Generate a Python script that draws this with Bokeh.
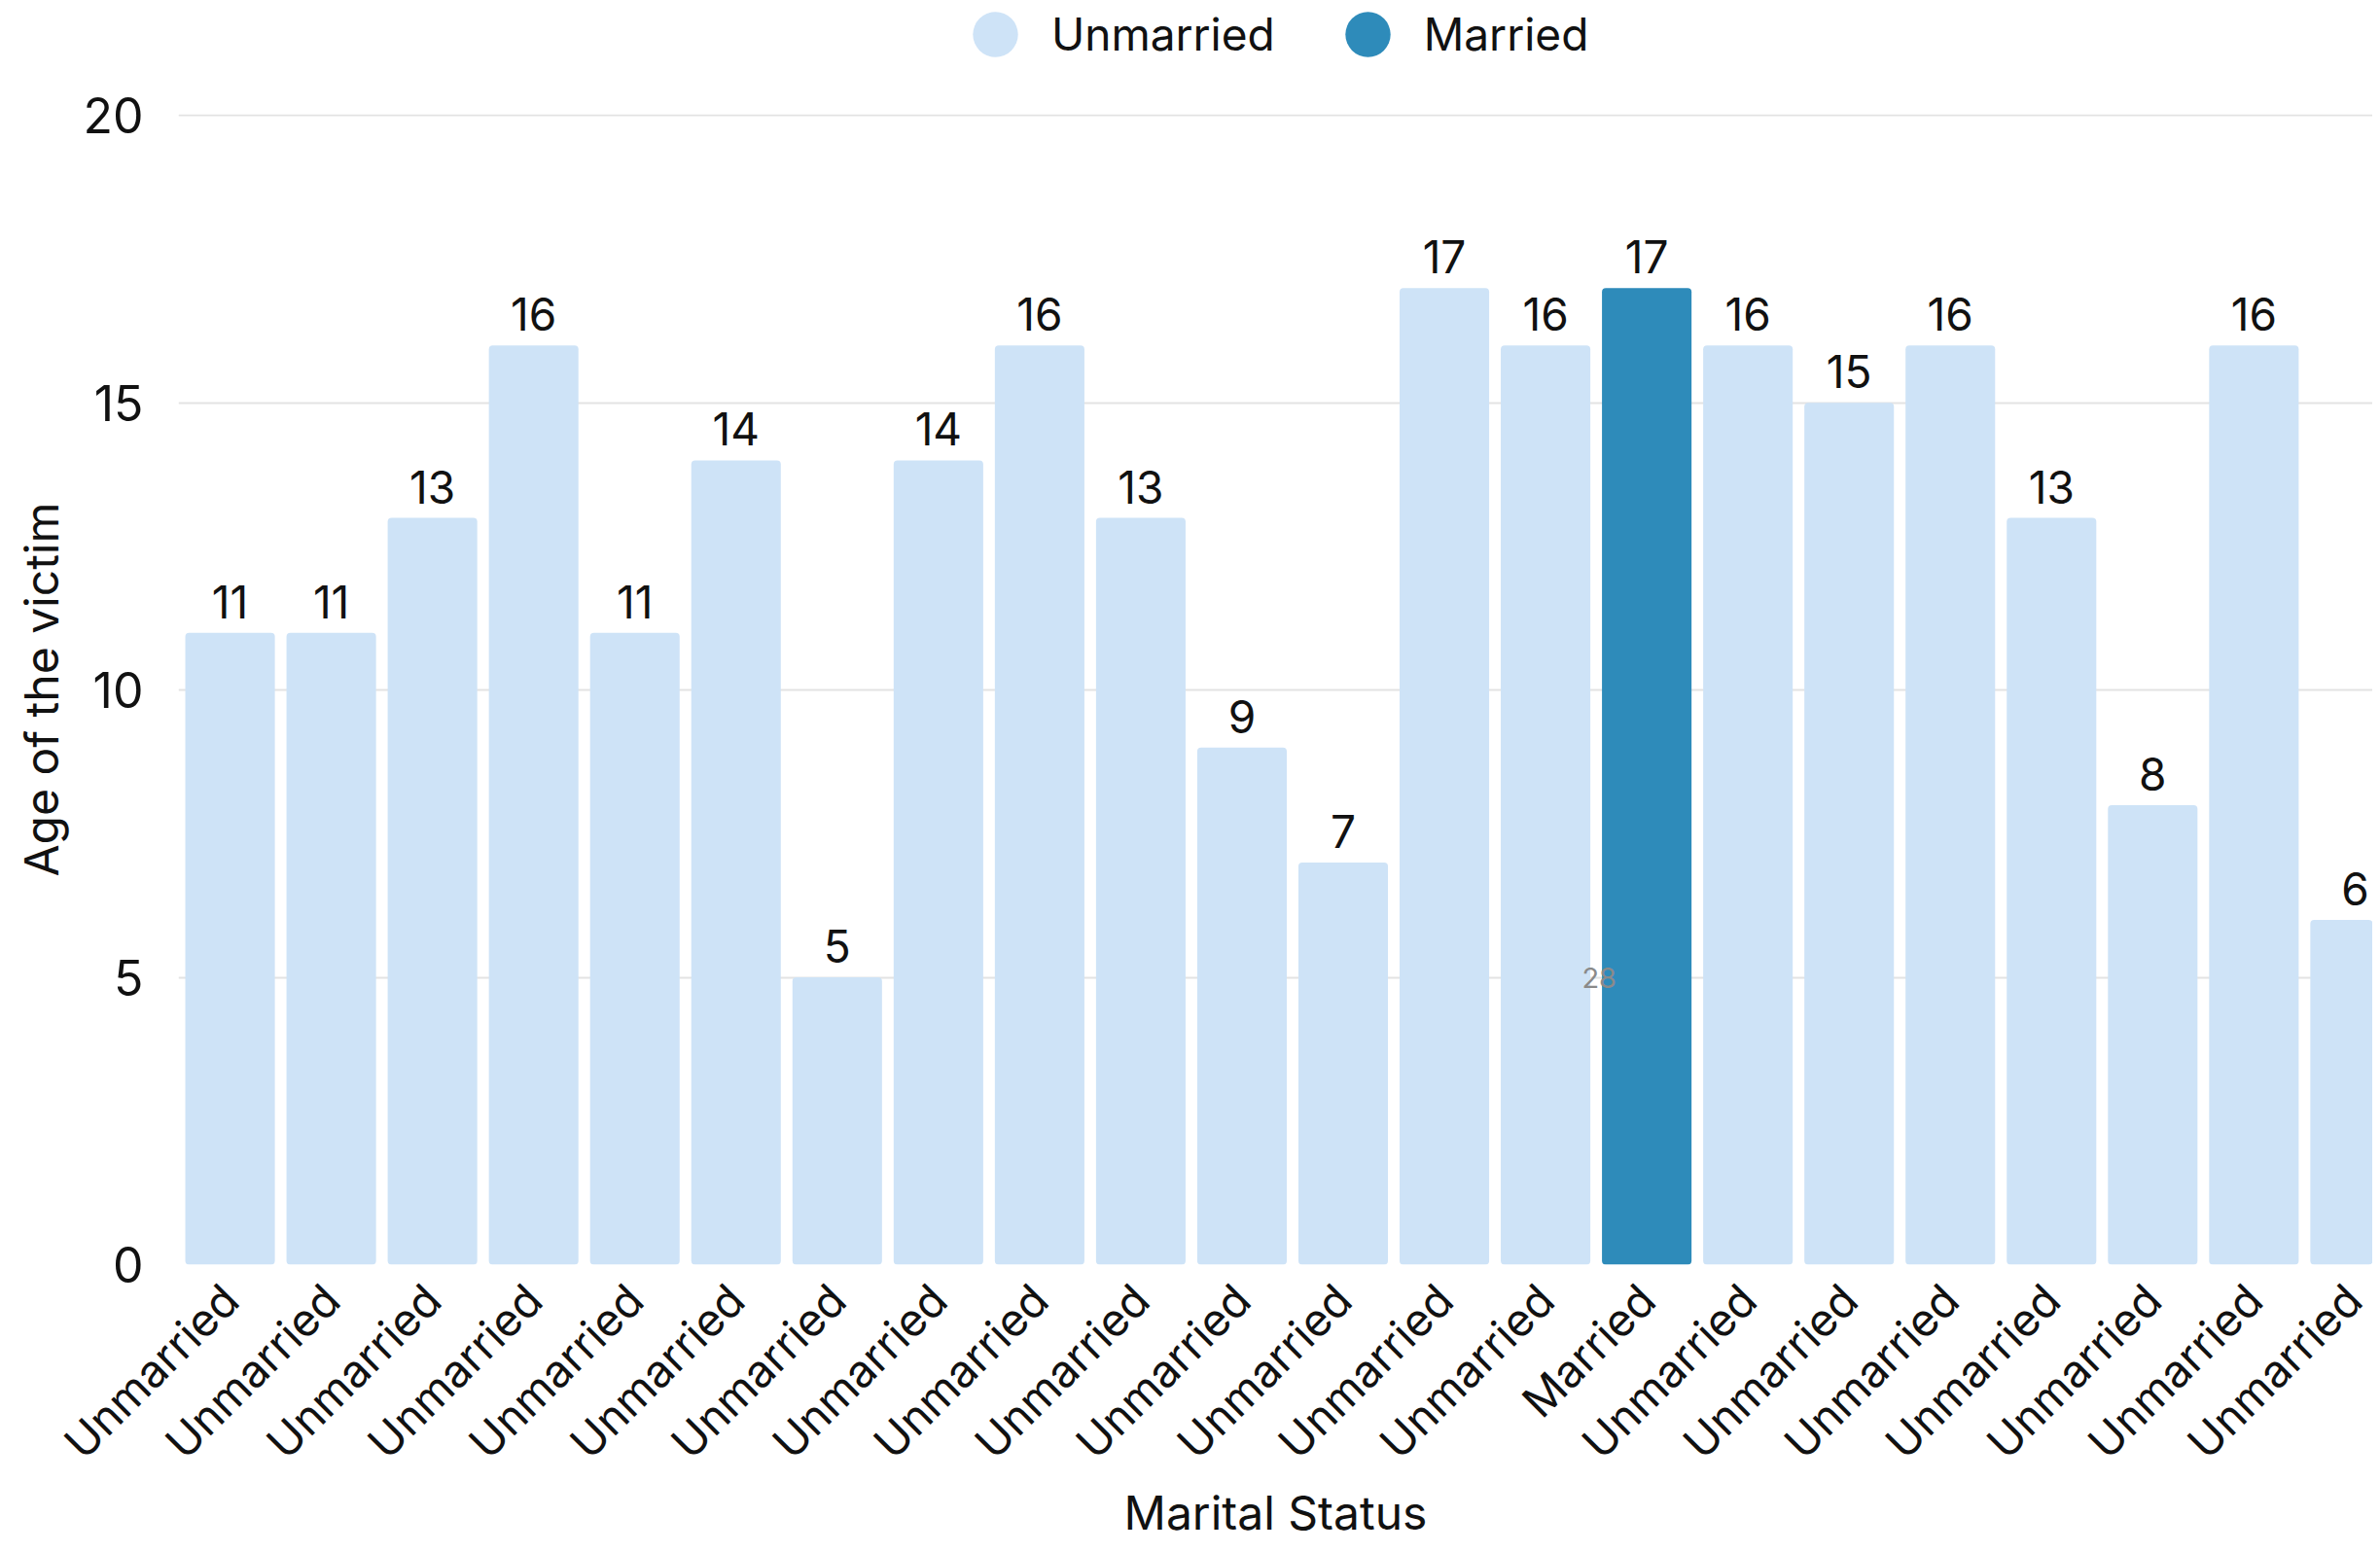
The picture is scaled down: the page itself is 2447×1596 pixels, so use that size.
from math import pi
from bokeh.plotting import figure
from bokeh.layouts import column
from bokeh.models import (ColumnDataSource, Range1d, FixedTicker, LabelSet, Label,
                          Legend, LegendItem)
from bokeh.core.properties import value
from bokeh.transform import factor_cmap
from bokeh.embed import file_html
from bokeh.resources import INLINE

# ---- data ----
statuses = ["Unmarried"] * 14 + ["Married"] + ["Unmarried"] * 7
ages = [11, 11, 13, 16, 11, 14, 5, 14, 16, 13, 9, 7, 17, 16, 17, 16, 15, 16, 13, 8, 16, 6]
legend_labels = ["Unmarried", "Married"]
y_ticks = [0, 5, 10, 15, 20]
stray_text = "28"
stray_x = 13.53
stray_y = 5

FONT = "Inter"
LIGHT = "#CEE3F7"
DARK = "#2E8BBA"
TXT = "#111111"

idx = list(range(len(ages)))
source = ColumnDataSource(dict(x=idx, age=ages, status=statuses,
                               age_text=[str(a) for a in ages]))

# ---- legend strip (top) ----
lf = figure(width=2439, height=77, output_backend="svg", toolbar_location=None,
            x_axis_type=None, y_axis_type=None,
            x_range=Range1d(0, 1), y_range=Range1d(0, 1),
            min_border_left=0, min_border_right=0, min_border_top=0,
            min_border_bottom=0)
lf.outline_line_color = None
r_u = lf.scatter(x="x", y="age", source=source, size=0, marker="circle",
                 fill_color=LIGHT, line_color=None)
r_m = lf.scatter(x="x", y="age", source=source, size=0, marker="circle",
                 fill_color=DARK, line_color=None)
legend = Legend(items=[LegendItem(label=legend_labels[0], renderers=[r_u]),
                       LegendItem(label=legend_labels[1], renderers=[r_m])],
                orientation="horizontal", location=(782, -16),
                glyph_width=116, glyph_height=116, label_standoff=0, spacing=37,
                padding=0, margin=0, border_line_color=None,
                background_fill_alpha=0, label_text_font=FONT,
                label_text_font_size="46px", label_text_color=TXT)
lf.add_layout(legend)

# ---- main chart ----
p = figure(width=2439, height=1511, output_backend="svg", toolbar_location=None,
           x_range=Range1d(-0.510, 21.174), y_range=Range1d(0, 20.025),
           min_border_left=183, min_border_right=0, min_border_top=40,
           min_border_bottom=288)
p.outline_line_color = None
p.background_fill_color = "white"

p.vbar(x="x", top="age", width=0.885, source=source,
       fill_color=factor_cmap("status", [LIGHT, DARK], legend_labels),
       line_color=None, border_radius=4)

labels = LabelSet(x="x", y="age", text="age_text", source=source, y_offset=15,
                  text_align="center", text_baseline="alphabetic",
                  text_font=value(FONT), text_font_size=value("46px"),
                  text_color=value(TXT))
p.add_layout(labels)

p.add_layout(Label(x=stray_x, y=stray_y, text=stray_text, text_align="center",
                   text_baseline="middle", text_font=FONT, text_font_size="29px",
                   text_color="#8a8a8a"))

# axes
p.xaxis.ticker = FixedTicker(ticks=idx)
p.xaxis.major_label_overrides = {i: s for i, s in enumerate(statuses)}
p.xaxis.major_label_orientation = pi / 4
p.xaxis.axis_label = "Marital Status"
p.yaxis.axis_label = "Age of the victim"
p.yaxis.ticker = FixedTicker(ticks=y_ticks)

for ax in (p.xaxis[0], p.yaxis[0]):
    ax.axis_line_color = None
    ax.major_tick_line_color = None
    ax.minor_tick_line_color = None
    ax.major_label_text_font = FONT
    ax.major_label_text_color = TXT
    ax.axis_label_text_font = FONT
    ax.axis_label_text_font_style = "normal"
    ax.axis_label_text_color = TXT
    ax.axis_label_text_font_size = "48px"

p.xaxis.major_label_text_font_size = "46px"
p.yaxis.major_label_text_font_size = "50px"
p.xaxis.major_label_standoff = 22
p.xaxis.axis_label_standoff = -8
p.yaxis.major_label_standoff = 30
p.yaxis.axis_label_standoff = 10

p.xgrid.grid_line_color = None
p.ygrid.grid_line_color = "#e3e3e3"
p.ygrid.grid_line_width = 2

layout = column(lf, p, spacing=0)
open("out.html", "w").write(file_html(layout, INLINE))
